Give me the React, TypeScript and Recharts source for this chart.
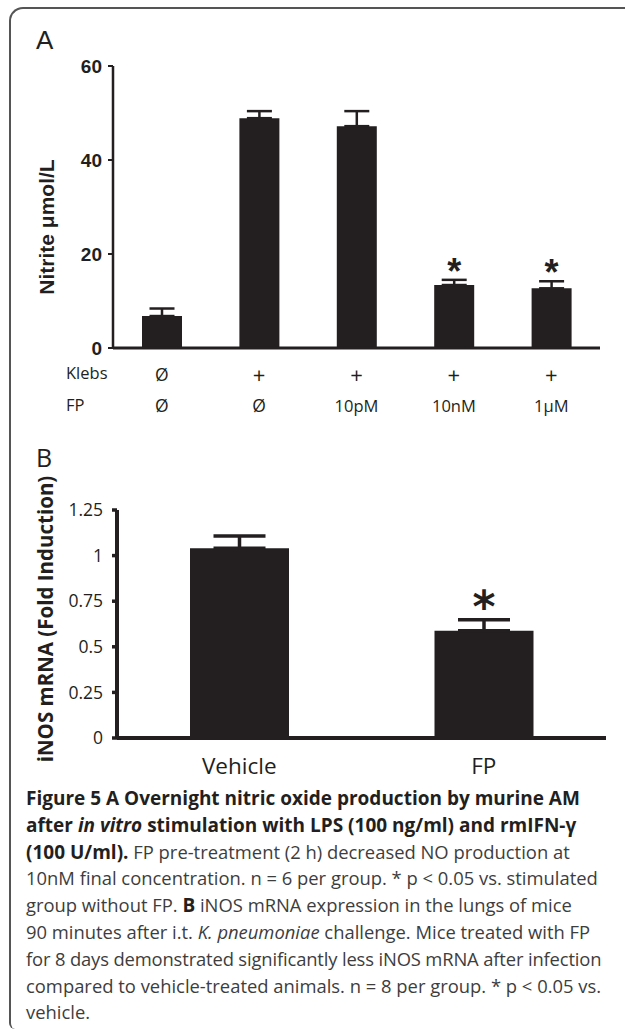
import React from "react";
import { BarChart, Bar, XAxis, YAxis, ErrorBar, LabelList } from "recharts";

// Panel A: nitrite (µmol/L) per condition
const nitriteGroups = ["c1", "c2", "c3", "c4", "c5"];
const klebsRow = ["Ø", "+", "+", "+", "+"];
const fpRow = ["Ø", "Ø", "10pM", "10nM", "1μM"];
const nitriteMean = [6.8, 48.9, 47.2, 13.4, 12.7];
const nitriteSem = [1.6, 1.5, 3.2, 1.1, 1.5];
const nitriteSig = [false, false, false, true, true];
const nitriteTicks = [0, 20, 40, 60];

// Panel B: iNOS mRNA fold induction
const inosGroups = ["Vehicle", "FP"];
const inosMean = [1.04, 0.588];
const inosSem = [0.067, 0.06];
const inosSig = [false, true];
const inosTicks = [0, 0.25, 0.5, 0.75, 1, 1.25];

const INK = "#231f20";
const ARIAL = "'Liberation Sans', Arial, sans-serif";
const SANS = "'Open Sans', sans-serif";

const nitriteData = nitriteGroups.map((name, i) => ({
  name,
  v: nitriteMean[i],
  err: [0, nitriteSem[i]],
  sig: nitriteSig[i],
  klebs: klebsRow[i],
  fp: fpRow[i],
}));

const inosData = inosGroups.map((name, i) => ({
  name,
  v: inosMean[i],
  err: [0, inosSem[i]],
  sig: inosSig[i],
}));

// asterisk sitting a fixed gap above the error-bar cap
function starLabel(rows: any[], gap: number, font: any) {
  return (p: any) => {
    const row = rows[p.index];
    if (!row || !row.sig) return null;
    const h = Number(p.height);
    const perUnit = h / Number(p.value);
    const capY = Number(p.y) - row.err[1] * perUnit;
    return (
      <text x={Number(p.x) + Number(p.width) / 2} y={capY - gap} textAnchor="middle" fill={INK} {...font}>
        *
      </text>
    );
  };
}

function ConditionTick(props: any) {
  const { x, y, index } = props;
  const row = nitriteData[index];
  const st = { fontFamily: SANS, fontSize: 16.5, fill: INK, dominantBaseline: "central" as const };
  return (
    <g>
      {index === 0 && (
        <>
          <text x={66} y={y + 24} {...st}>Klebs</text>
          <text x={66} y={y + 56} {...st}>FP</text>
        </>
      )}
      <text x={x} y={y + 26} textAnchor="middle" {...st} fontSize={row.klebs === "+" ? 22 : 17.5}>
        {row.klebs}
      </text>
      <text x={x} y={y + 57} textAnchor="middle" {...st} fontSize={row.fp === "Ø" ? 17.5 : 16.5}>
        {row.fp}
      </text>
    </g>
  );
}

function Caption() {
  const bold = { fontWeight: 700, color: INK, fontSize: 19 };
  return (
    <div
      style={{
        position: "absolute",
        left: 26,
        top: 785,
        fontFamily: SANS,
        fontSize: 18.4,
        lineHeight: "26.8px",
        color: "#3d3d3d",
        whiteSpace: "nowrap",
      }}
    >
      <div style={bold}>Figure 5 A Overnight nitric oxide production by murine AM</div>
      <div style={bold}>
        after <i>in vitro</i> stimulation with LPS (100 ng/ml) and rmIFN-γ
      </div>
      <div>
        <span style={bold}>(100 U/ml).</span> FP pre-treatment (2 h) decreased NO production at
      </div>
      <div>10nM final concentration. n = 6 per group. * p &lt; 0.05 vs. stimulated</div>
      <div>
        group without FP. <span style={bold}>B</span> iNOS mRNA expression in the lungs of mice
      </div>
      <div>
        90 minutes after i.t. <i>K. pneumoniae</i> challenge. Mice treated with FP
      </div>
      <div style={{ letterSpacing: -0.15 }}>for 8 days demonstrated significantly less iNOS mRNA after infection</div>
      <div>compared to vehicle-treated animals. n = 8 per group. * p &lt; 0.05 vs.</div>
      <div>vehicle.</div>
    </div>
  );
}

export default function App() {
  return (
    <div
      style={{
        position: "absolute",
        left: 0,
        top: 0,
        width: 625,
        height: 1030,
        overflow: "hidden",
        background: "#fff",
      }}
    >
      <div
        style={{
          position: "absolute",
          left: 9,
          top: 7,
          width: 640,
          height: 1020,
          borderTop: "2px solid #555",
          borderLeft: "2px solid #555",
          borderTopLeftRadius: 14,
          borderBottomLeftRadius: 6,
        }}
      />
      <div style={{ position: "absolute", left: 36, top: 25, fontFamily: ARIAL, fontSize: 26, lineHeight: "30px", color: INK }}>A</div>
      <div style={{ position: "absolute", left: 36, top: 440, fontFamily: SANS, fontSize: 25, color: INK }}>B</div>

      <div style={{ position: "absolute", left: 0, top: 0 }}>
        <BarChart width={625} height={430} data={nitriteData} margin={{ top: 66, right: 25, bottom: 2, left: 63 }} barSize={40}>
          <XAxis
            dataKey="name"
            height={80}
            interval={0}
            tickLine={false}
            tickSize={0}
            tickMargin={0}
            axisLine={{ stroke: INK, strokeWidth: 3 }}
            tick={<ConditionTick />}
          />
          <YAxis
            width={50}
            domain={[0, 60]}
            ticks={nitriteTicks}
            interval={0}
            tickSize={5}
            tickMargin={6}
            axisLine={{ stroke: INK, strokeWidth: 2.5 }}
            tickLine={{ stroke: INK, strokeWidth: 2 }}
            tick={{ fontFamily: ARIAL, fontWeight: 700, fontSize: 19, fill: INK }}
            label={{
              content: (p: any) => {
                const vb = p.viewBox;
                const cx = vb.x - 17;
                const cy = vb.y + vb.height / 2 + 20;
                return (
                  <text
                    x={cx}
                    y={cy}
                    transform={`rotate(-90 ${cx} ${cy})`}
                    textAnchor="middle"
                    dominantBaseline="central"
                    fontFamily={ARIAL}
                    fontWeight={700}
                    fontSize={21}
                    fill={INK}
                  >
                    Nitrite μmol/L
                  </text>
                );
              },
            }}
          />
          <Bar dataKey="v" fill={INK} isAnimationActive={false}>
            <ErrorBar dataKey="err" direction="y" width={12.5} stroke={INK} strokeWidth={2.5} isAnimationActive={false} />
            <LabelList dataKey="v" content={starLabel(nitriteData, -4, { fontFamily: ARIAL, fontWeight: 700, fontSize: 36 })} />
          </Bar>
        </BarChart>
      </div>

      <div style={{ position: "absolute", left: 0, top: 440 }}>
        <BarChart width={625} height={350} data={inosData} margin={{ top: 70, right: 19, bottom: 7, left: 62 }} barSize={99}>
          <XAxis
            dataKey="name"
            height={45}
            interval={0}
            tickLine={false}
            tickSize={6}
            tickMargin={14}
            axisLine={{ stroke: INK, strokeWidth: 4 }}
            tick={{ fontFamily: SANS, fontSize: 22.5, fontWeight: 500, fill: INK }}
          />
          <YAxis
            width={55}
            domain={[0, 1.25]}
            ticks={inosTicks}
            interval={0}
            tickSize={5}
            tickMargin={9}
            axisLine={{ stroke: INK, strokeWidth: 4 }}
            tickLine={{ stroke: INK, strokeWidth: 3.5 }}
            tickFormatter={(v: number) => String(v)}
            tick={{ fontFamily: SANS, fontSize: 17.5, fill: INK }}
            label={{
              content: (p: any) => {
                const vb = p.viewBox;
                const cx = vb.x - 17;
                const cy = vb.y + vb.height / 2 - 5;
                return (
                  <text
                    x={cx}
                    y={cy}
                    transform={`rotate(-90 ${cx} ${cy})`}
                    textAnchor="middle"
                    dominantBaseline="central"
                    fontFamily={SANS}
                    fontWeight={700}
                    fontSize={20.5}
                    fill={INK}
                  >
                    iNOS mRNA (Fold Induction)
                  </text>
                );
              },
            }}
          />
          <Bar dataKey="v" fill={INK} isAnimationActive={false}>
            <ErrorBar dataKey="err" direction="y" width={26} stroke={INK} strokeWidth={3.5} isAnimationActive={false} />
            <LabelList dataKey="v" content={starLabel(inosData, -2, { fontFamily: "'DejaVu Sans', sans-serif", fontWeight: 700, fontSize: 44 })} />
          </Bar>
        </BarChart>
      </div>

      <Caption />
    </div>
  );
}
